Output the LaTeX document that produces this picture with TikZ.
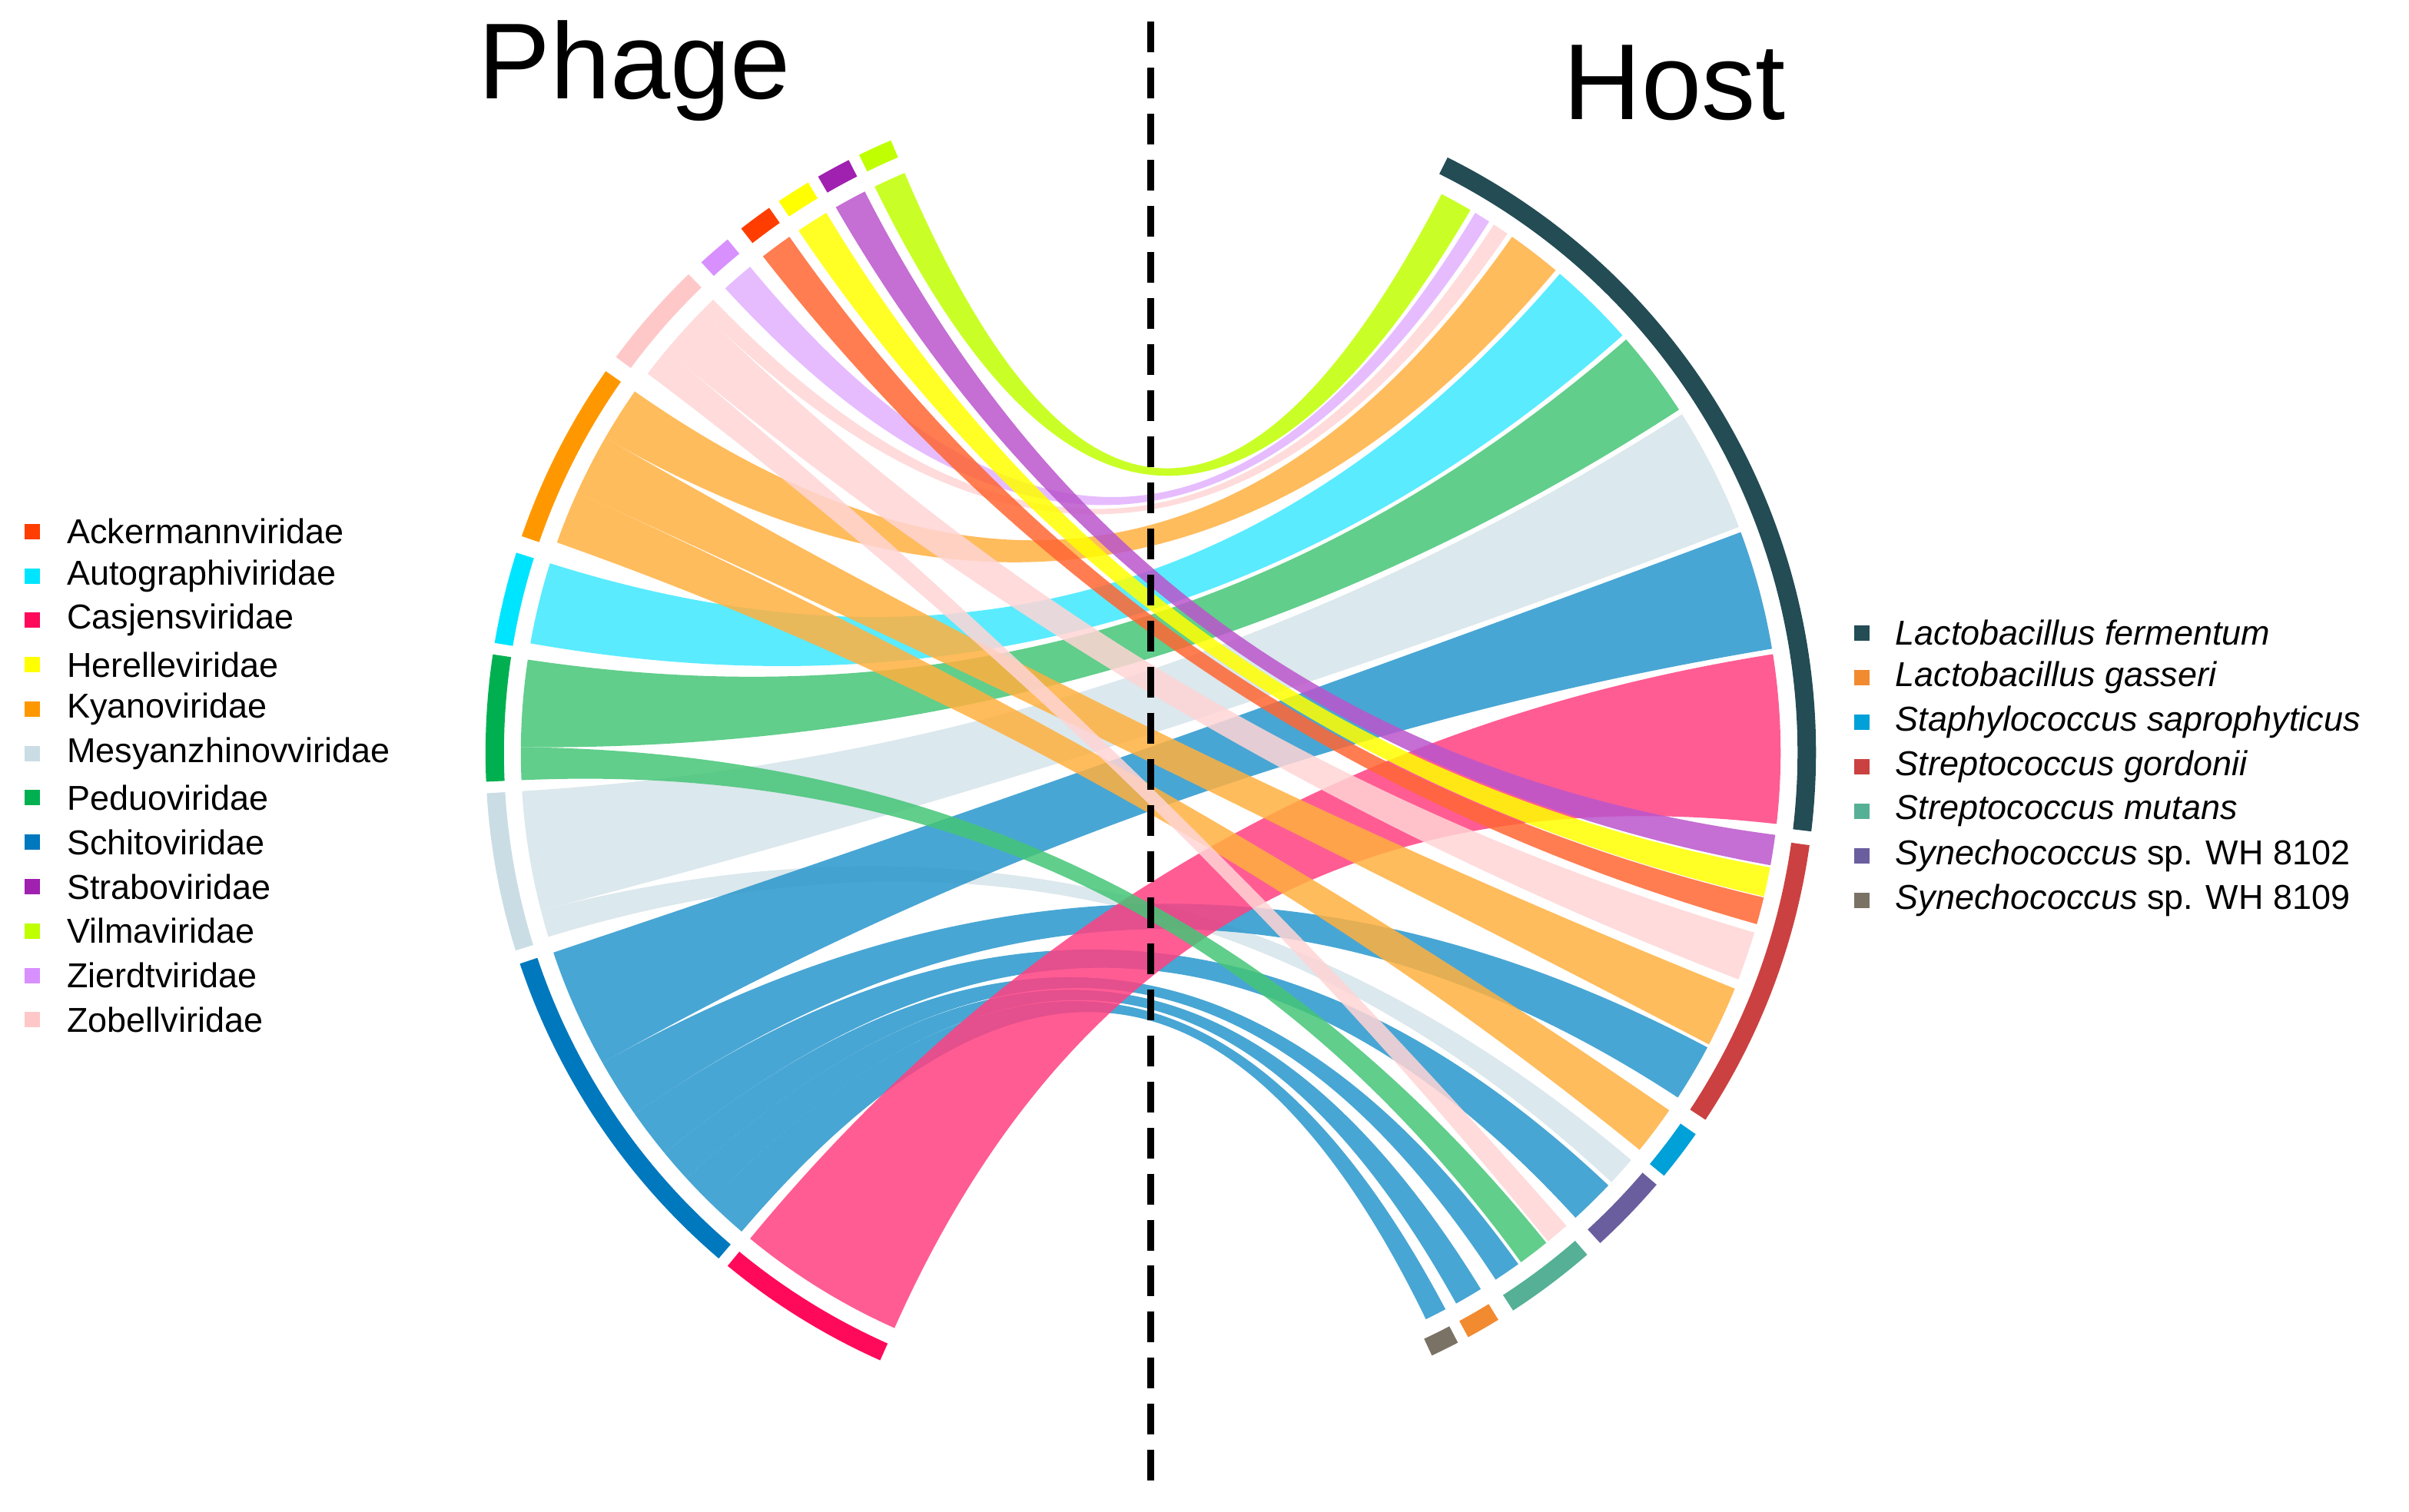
\documentclass[tikz,border=0pt]{standalone}
\usepackage{fontspec}
\setmainfont{Liberation Sans}
\usetikzlibrary{calc}
\definecolor{cAck}{HTML}{FF3D00}\definecolor{rAck}{HTML}{FF6633}
\definecolor{cAut}{HTML}{00E5FF}\definecolor{rAut}{HTML}{3DE8FF}
\definecolor{cCas}{HTML}{FF0A5A}\definecolor{rCas}{HTML}{FF4081}
\definecolor{cHer}{HTML}{FFFF00}\definecolor{rHer}{HTML}{FFFF00}
\definecolor{cKya}{HTML}{FF9800}\definecolor{rKya}{HTML}{FFB03F}
\definecolor{cMes}{HTML}{CADDE5}\definecolor{rMes}{HTML}{D5E4EA}
\definecolor{cPed}{HTML}{00B050}\definecolor{rPed}{HTML}{45C577}
\definecolor{cSch}{HTML}{0078BE}\definecolor{rSch}{HTML}{2896CC}
\definecolor{cStr}{HTML}{A020B0}\definecolor{rStr}{HTML}{BB55CC}
\definecolor{cVil}{HTML}{BFFF00}\definecolor{rVil}{HTML}{BFFF00}
\definecolor{cZie}{HTML}{D890FF}\definecolor{rZie}{HTML}{E2B0FF}
\definecolor{cZob}{HTML}{FFC8C8}\definecolor{rZob}{HTML}{FFD5D5}
\definecolor{hFer}{HTML}{234C55}\definecolor{hGas}{HTML}{F28A30}
\definecolor{hSta}{HTML}{00A0D8}\definecolor{hGor}{HTML}{CB4141}
\definecolor{hMut}{HTML}{55B095}\definecolor{hWa}{HTML}{6B5E9E}
\definecolor{hWb}{HTML}{7A7265}
% ribbon: colour, left a1, left a2, right top, right bottom
\newcommand\rib[5]{%
  \path ($(C)+(#3:4.1)$) coordinate (p2) ($(C)+(#5:4.1)$) coordinate (q2) ($(C)+(#2:4.1)$) coordinate (p1);
  \fill[#1,fill opacity=.85]
    (p1) arc[start angle=#2,end angle=#3,radius=4.1cm]
    .. controls ($(p2)!0.667!(C)$) and ($(q2)!0.667!(C)$) .. (q2)
    arc[start angle=#5,end angle=#4,radius=4.1cm] coordinate (q1)
    .. controls ($(q1)!0.667!(C)$) and ($(p1)!0.667!(C)$) .. (p1) -- cycle;}
\newcommand\band[3]{%
  \fill[#1] ($(C)+(#2:4.21)$) arc[start angle=#2,end angle=#3,radius=4.21cm]
    -- ($(C)+(#3:4.33)$) arc[start angle=#3,end angle=#2,radius=4.33cm] -- cycle;}
\tikzset{legsq/.style={minimum size=0.1cm,inner sep=0,fill=#1},
  legtx/.style={anchor=west,font=\fontsize{6.4pt}{7pt}\selectfont,inner sep=0}}
\begin{document}
\begin{tikzpicture}
\useasboundingbox (0,0) rectangle (15.68,9.84);
\coordinate (C) at (7.49,4.94);
% bands phage
\band{cVil}{113}{116}
\band{cStr}{117}{120}
\band{cHer}{121}{124}
\band{cAck}{125}{128}
\band{cZie}{129.5}{132.5}
\band{cZob}{134}{143.5}
\band{cKya}{145}{161}
\band{cAut}{162.5}{170.5}
\band{cPed}{171.5}{182.5}
\band{cMes}{183.5}{197.3}
\band{cSch}{198.5}{229.5}
\band{cCas}{230.5}{246}
% bands host
\band{hFer}{-6.8}{63.5}
\band{hGor}{-33.5}{-8}
\band{hSta}{-39.5}{-35}
\band{hWa}{-47.5}{-40.5}
\band{hMut}{-57}{-49}
\band{hGas}{-61.5}{-58.5}
\band{hWb}{-65}{-62.5}
% ribbons
\rib{rMes}{183.5}{194.5}{32.5}{21}
\rib{rMes}{194.5}{197}{-40.3}{-43}
\rib{rSch}{198.5}{209.5}{20.5}{9.5}
\rib{rSch}{209.5}{215}{-27.9}{-33.2}
\rib{rSch}{215}{219.5}{-43.4}{-47.6}
\rib{rSch}{219.5}{222.5}{-54.3}{-56.8}
\rib{rSch}{222.5}{225.5}{-58.4}{-61}
\rib{rSch}{225.5}{229.5}{-62.1}{-64.1}
\rib{rCas}{230.5}{246}{9}{-6.5}
\rib{rPed}{171.5}{179.5}{41}{33}
\rib{rPed}{179.5}{182.5}{-51.1}{-54}
\rib{rAut}{162.5}{170}{49.5}{41.5}
\rib{rKya}{145}{150}{55}{50}
\rib{rKya}{150}{155.6}{-22}{-27.6}
\rib{rKya}{155.6}{160.5}{-34.6}{-39.1}
\rib{rZob}{134}{135.5}{57}{55.5}
\rib{rZob}{135.5}{140.3}{-16.6}{-21.1}
\rib{rZob}{140.3}{143}{-48.7}{-50.9}
\rib{rZie}{129.5}{132.5}{59}{57.5}
\rib{rAck}{125}{128}{-13.3}{-15.8}
\rib{rHer}{121}{124}{-10.5}{-13.2}
\rib{rStr}{117}{120}{-7.5}{-10.3}
\rib{rVil}{113}{116}{62.5}{59.5}
% divider
\coordinate (dt) at (7.49,9.7);
\coordinate (db) at (7.49,0.14);
\draw[line width=1.3pt,dash pattern=on 0.2cm off 0.1cm] (dt) -- (db);
% titles
\node[font=\fontsize{20pt}{24pt}\selectfont] (tp) at (4.13,9.38) {Phage};
\node[font=\fontsize{20pt}{24pt}\selectfont] (th) at (10.9,9.3) {Host};
% left legend
\foreach \c/\t [count=\i] in {cAck/Ackermannviridae,cAut/Autographiviridae,cCas/Casjensviridae,cHer/Herelleviridae,cKya/Kyanoviridae,cMes/Mesyanzhinovviridae,cPed/Peduoviridae,cSch/Schitoviridae,cStr/Straboviridae,cVil/Vilmaviridae,cZie/Zierdtviridae,cZob/Zobellviridae}{
  \node[legsq=\c] (ls\i) at (0.21,{9.84-3.46-(\i-1)*0.289}) {};
  \node[legtx] (lt\i) at (0.43,{9.84-3.46-(\i-1)*0.289}) {\t};}
% right legend
\foreach \c/\t [count=\i] in {hFer/\textit{Lactobacillus fermentum},hGas/\textit{Lactobacillus gasseri},hSta/\textit{Staphylococcus saprophyticus},hGor/\textit{Streptococcus gordonii},hMut/\textit{Streptococcus mutans},hWa/\textit{Synechococcus} sp. WH 8102,hWb/\textit{Synechococcus} sp. WH 8109}{
  \node[legsq=\c] (rs\i) at (12.12,{9.84-4.12-(\i-1)*0.29}) {};
  \node[legtx] (rt\i) at (12.33,{9.84-4.12-(\i-1)*0.29}) {\t};}
\end{tikzpicture}
\end{document}
